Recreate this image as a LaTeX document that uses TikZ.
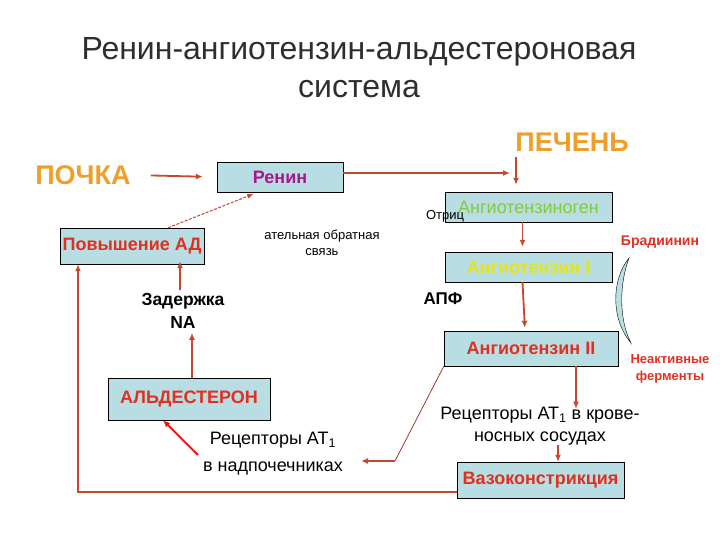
\documentclass[tikz,border=0pt]{standalone}
\usepackage{fontspec}
\setmainfont{Liberation Sans}
\usepackage{xcolor}
\usetikzlibrary{arrows.meta,positioning}
\definecolor{boxcyan}{HTML}{B8DDE2}
\definecolor{arrowred}{HTML}{C8462A}
\definecolor{organorange}{HTML}{EE9F2A}
\definecolor{reninpink}{HTML}{A8168C}
\definecolor{agengreen}{HTML}{8CC63F}
\definecolor{angyellow}{HTML}{E4E41A}
\definecolor{textred}{HTML}{E03020}
\definecolor{inkgray}{HTML}{2E2E2E}
\definecolor{thinbrown}{HTML}{9A3A2A}
\tikzset{
  boxnode/.style={draw=black,fill=boxcyan,inner sep=0pt,font=\bfseries\fontsize{18}{20}\selectfont,text=textred},
  arr/.style={-{Latex[length=7pt,width=6pt]},draw=arrowred,line width=1.8pt},
  txtnode/.style={inner sep=0pt,align=center,font=\fontsize{18}{22}\selectfont},
  organnode/.style={inner sep=0pt,font=\bfseries\fontsize{27}{30}\selectfont,text=organorange},
  smallnode/.style={inner sep=0pt,align=center,font=\fontsize{13}{16}\selectfont},
}

\begin{document}
\begin{tikzpicture}[x=1pt,y=-1pt]
    \useasboundingbox (0,0) rectangle (720,540);
    % title
    \node[txtnode,text=inkgray,font=\fontsize{32}{38}\selectfont] (title) at (359,68) {Ренин-ангиотензин-альдестероновая\\система};
    \node[organnode] (pochka) at (83,175) {ПОЧКА};
    \node[organnode] (pechen) at (572,142) {ПЕЧЕНЬ};
    % boxes
    \node[boxnode,minimum width=126,minimum height=30,text=reninpink] (renin) at (280,177) {Ренин};
    \node[boxnode,minimum width=167,minimum height=30,text=agengreen,font=\fontsize{18}{20}\selectfont] (agen) at (528.5,207) {Ангиотензиноген};
    \node[boxnode,minimum width=167,minimum height=30,text=angyellow] (ang1) at (528.5,267) {Ангиотензин I};
    \node[boxnode,minimum width=174,minimum height=35] (ang2) at (531,348.5) {Ангиотензин II};
    \node[boxnode,minimum width=167,minimum height=36] (vaso) at (540.5,480) {Вазоконстрикция};
    \node[boxnode,minimum width=144,minimum height=36] (pad) at (132,246) {Повышение АД};
    \node[boxnode,minimum width=162,minimum height=42] (ald) at (189,399) {АЛЬДЕСТЕРОН};
    % labels
    \node[smallnode] (otric) at (445,216) {Отриц};
    \node[smallnode] (fback) at (322,243) {ательная обратная\\связь};
    \node[smallnode,font=\bfseries\fontsize{14}{16}\selectfont,text=textred] (brad) at (660,242) {Брадиинин};
    \node[smallnode,font=\bfseries\fontsize{13}{17}\selectfont,text=textred] (inact) at (670,369) {Неактивные\\ферменты};
    \node[txtnode,font=\bfseries\fontsize{17}{20}\selectfont] (apf) at (443,299) {АПФ};
    \node[txtnode,font=\bfseries\fontsize{17.5}{23}\selectfont] (zad) at (183,311) {Задержка\\NA};
    \node[txtnode] (rvess) at (540,426) {Рецепторы AT\textsubscript{1} в крове-\\носных сосудах};
    \node[txtnode,font=\fontsize{18}{27}\selectfont] (radr) at (273,454) {Рецепторы AT\textsubscript{1}\\в надпочечниках};
    % crescent
    \draw[fill=boxcyan,draw=black,thin] (629,258) .. controls (611,280) and (611,320) .. (631,343)
      .. controls (619,320) and (619,285) .. (629,258) -- cycle;
    % connectors
    \coordinate (meet) at (516,173);
    \coordinate (corner) at (78,492);
    \coordinate (bend) at (395,461);
    \draw[arr,shorten <=20pt,shorten >=14pt] (pochka.east) -- (renin.west);
    \draw[arr,shorten >=6pt] ([yshift=4pt]renin.east) -- (meet);
    \draw[arr,shorten <=6pt,shorten >=7pt] (meet |- pechen.south) -- (meet |- agen.north);
    \draw[arr,shorten >=5pt] ([xshift=-6pt]agen.south) -- ([xshift=-6pt]ang1.north);
    \draw[arr,shorten >=3pt] ([xshift=-6pt]ang1.south) -- ([xshift=-6pt]ang2.north);
    \draw[arr,shorten >=-2pt] ([xshift=45pt]ang2.south) -- ([xshift=45pt]ang2.south |- rvess.north);
    \draw[arr] ([xshift=17.5pt]vaso.north |- rvess.south) -- ([xshift=17.5pt]vaso.north);
    \draw[arr] ([yshift=-12pt]vaso.west) -- (corner) -- (corner |- pad.south);
    \draw[arr,shorten <=3pt,shorten >=-3pt] ([xshift=48pt]zad.north -| pad.south) -- ([xshift=48pt]pad.south);
    \draw[arr,shorten >=4pt] ([xshift=3pt]ald.north) -- ([xshift=3pt]ald.north |- zad.south);
    \draw[arr,draw=red!80!arrowred] (198,455) -- ([xshift=-26pt]ald.south);
    \draw[thinbrown,line width=0.8pt] (ang2.south west) -- (bend);
    \draw[arr,shorten >=18pt] (bend) -- (radr.east |- bend);
    \draw[-{Latex[length=6pt,width=5pt]},draw=arrowred,line width=1pt,dash pattern=on 3pt off 1.5pt,shorten >=5pt] ([xshift=36pt]pad.north) -- ([xshift=-22pt]renin.south);
\end{tikzpicture}
\end{document}
